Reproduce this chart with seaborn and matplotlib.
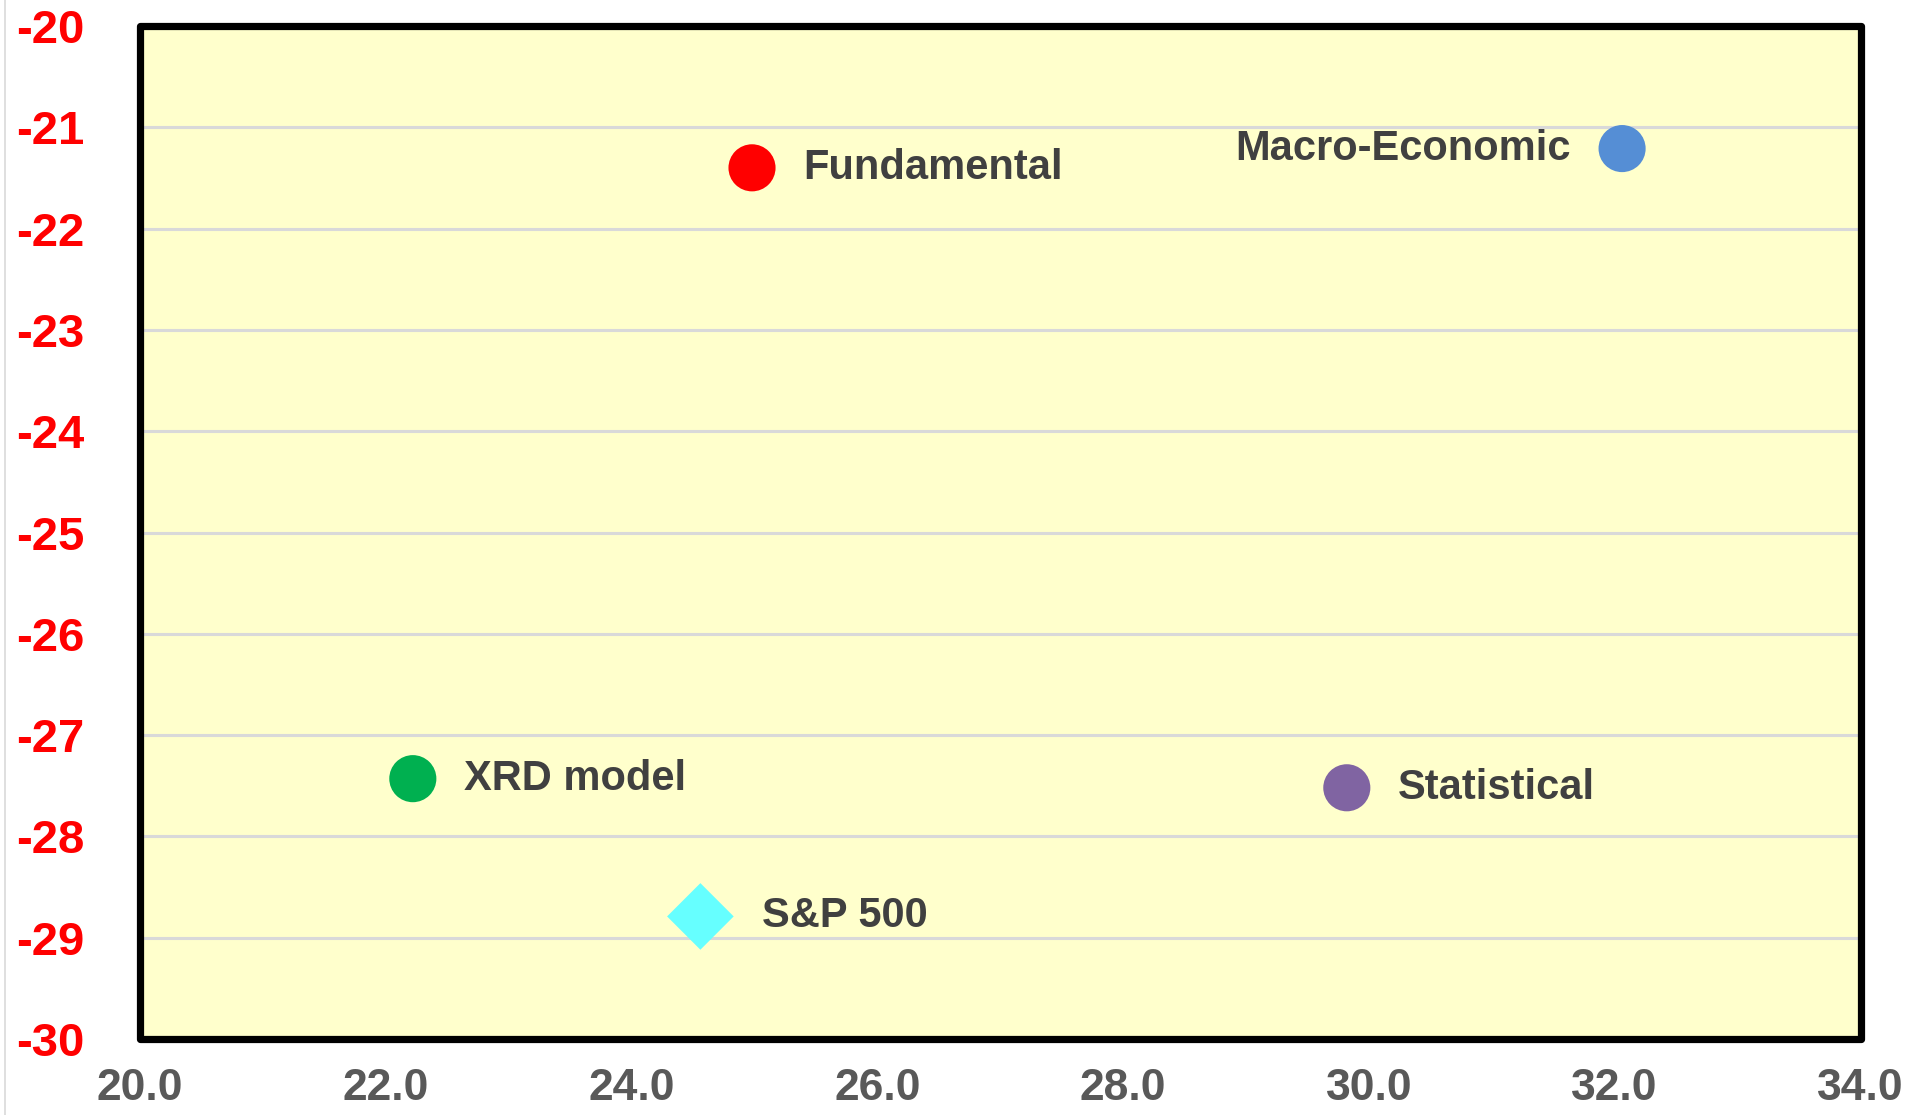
import matplotlib as mpl
import matplotlib.pyplot as plt
import pandas as pd
import seaborn as sns
from matplotlib.lines import Line2D
from matplotlib.patches import Rectangle

# data
models = ["Fundamental", "Macro-Economic", "XRD model", "Statistical", "S&P 500"]
x_vals = [24.98, 32.06, 22.22, 29.82, 24.56]
y_vals = [-21.40, -21.21, -27.43, -27.52, -28.79]
colors = ["#FF0000", "#558ED5", "#00B050", "#8064A2", "#66FFFF"]
shapes = ["o", "o", "o", "o", "D"]
label_side = ["right", "left", "right", "right", "right"]
x_ticks = [20.0, 22.0, 24.0, 26.0, 28.0, 30.0, 32.0, 34.0]
y_ticks = [-30, -29, -28, -27, -26, -25, -24, -23, -22, -21, -20]

sns.set_theme(style="white")
mpl.rcParams["font.family"] = ["Liberation Sans", "DejaVu Sans"]
mpl.rcParams["font.weight"] = "bold"

df = pd.DataFrame({"x": x_vals, "y": y_vals, "model": models})

fig = plt.figure(figsize=(19.19, 11.15), dpi=100)
ax = fig.add_axes([140 / 1919, 1 - 1039 / 1115, 1720.5 / 1919, 1013 / 1115])
ax.set_facecolor("#FFFFCC")

sns.scatterplot(
    data=df,
    x="x",
    y="y",
    hue="model",
    style="model",
    palette=dict(zip(models, colors)),
    markers=dict(zip(models, shapes)),
    s=1150,
    linewidth=0,
    legend=False,
    zorder=3,
    ax=ax,
)

for name, xv, yv, side in zip(models, x_vals, y_vals, label_side):
    off = 37 if side == "right" else -37
    if name == "S&P 500":
        off = 44
    ax.annotate(
        name,
        (xv, yv),
        xytext=(off, 0),
        textcoords="offset points",
        ha="left" if side == "right" else "right",
        va="center",
        fontsize=30,
        fontweight="bold",
        color="#404040",
        zorder=4,
    )

ax.set_xlim(20, 34)
ax.set_ylim(-30, -20)
ax.set_xticks(x_ticks)
ax.set_xticklabels([f"{v:.1f}" for v in x_ticks])
ax.set_yticks(y_ticks)
ax.set_yticklabels([str(v) for v in y_ticks])
ax.tick_params(axis="x", colors="#595959", labelsize=32, pad=21, length=0)
ax.tick_params(axis="y", colors="#FF0000", labelsize=34, pad=40, length=0)
for lab in ax.get_xticklabels() + ax.get_yticklabels():
    lab.set_fontweight("bold")
ax.yaxis.grid(True, color="#D9D9D9", linewidth=2.2, zorder=0)
ax.xaxis.grid(False)
ax.set_axisbelow(True)
ax.set_xlabel("")
ax.set_ylabel("")
for sp in ax.spines.values():
    sp.set_visible(False)

ax.add_patch(
    Rectangle(
        (0, 0), 1, 1,
        transform=ax.transAxes,
        fill=False,
        edgecolor="black",
        linewidth=5.2,
        joinstyle="round",
        clip_on=False,
        zorder=5,
    )
)

# thin chart-area edge at the far left
fig.add_artist(Line2D([0.0028, 0.0028], [0, 1], color="#D9D9D9", linewidth=1.2))

fig.savefig("out.png", dpi=100, facecolor="white")
